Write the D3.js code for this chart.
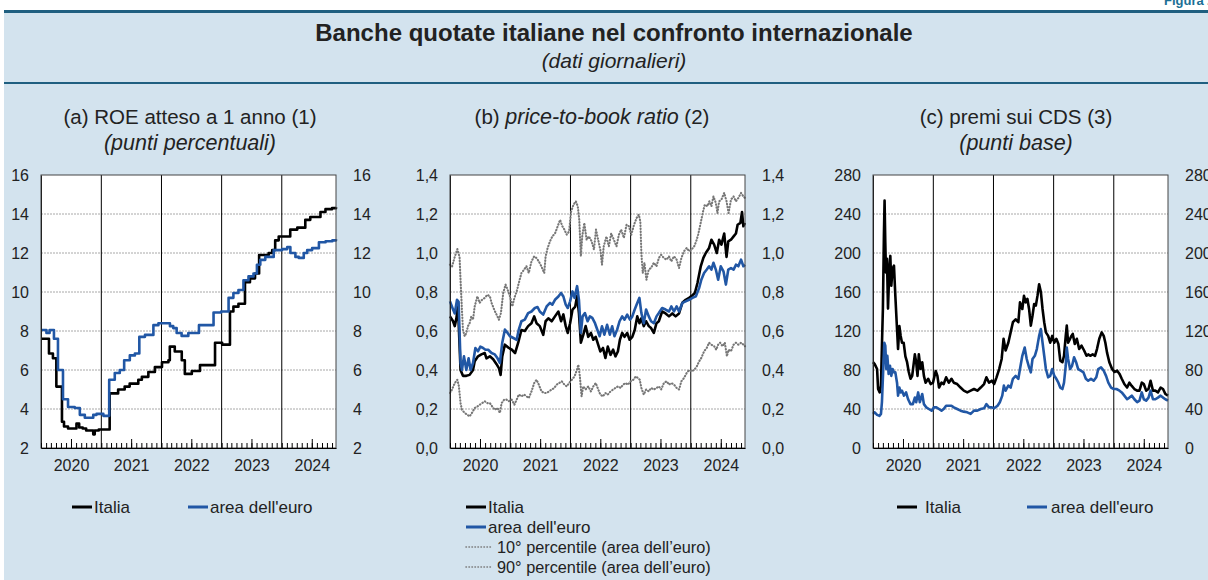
<!DOCTYPE html>
<html>
<head>
<meta charset="utf-8">
<script src="https://cdn.jsdelivr.net/npm/d3@7"></script>
<style>
    body { margin: 0; background: #fff; }
    text { font-family: "Liberation Sans", Arial, Helvetica, sans-serif; fill: #222; }
</style>
</head>
<body>
<div id="chart"></div>
<script>
// dates are months since January 2020 (decimal)
var endMonth = 58.8;
var years = [2020, 2021, 2022, 2023, 2024];

// (a) ROE atteso a 1 anno
var roeItalia = [[0,7.6],[1.6,6.85],[2.4,6.6],[3.07,5.15],[4.2,3.35],[4.6,3.1],[5.4,3.0],[7.07,3.25],[7.6,3.05],[8.3,3.0],[9.0,2.9],[10.4,2.7],[10.7,2.9],[11.5,2.95],[13.7,4.8],[15.4,5.0],[16.7,5.15],[17.7,5.3],[19.4,5.5],[20.1,5.65],[21.4,5.9],[22.7,6.15],[24.1,6.4],[25.4,6.5],[25.7,7.2],[26.7,6.95],[28.1,6.5],[28.7,5.8],[30.1,5.95],[31.7,6.25],[34.7,7.4],[36.1,7.3],[37.7,9.0],[38.4,9.25],[39.4,9.4],[40.7,10.5],[41.7,10.7],[42.7,10.95],[43.5,11.9],[45.4,12.0],[46.1,12.15],[46.7,12.65],[47.4,12.85],[49.7,13.2],[51.1,13.3],[52.7,13.7],[53.7,13.85],[55.7,14.1],[56.7,14.25],[58.0,14.3],[58.8,14.35]];
var roeEuro = [[0,8.05],[1.07,7.9],[1.73,8.05],[2.6,7.6],[3.4,6.0],[4.4,4.5],[5.4,4.1],[6.73,4.05],[7.73,3.7],[8.73,3.55],[10.4,3.7],[11.07,3.75],[12.4,3.65],[13.6,5.5],[14.73,5.85],[15.73,6.0],[16.6,6.5],[17.73,6.75],[18.73,6.85],[19.6,7.7],[20.73,7.8],[22.4,8.3],[23.4,8.4],[25.73,8.25],[26.4,8.15],[27.07,7.9],[28.07,7.75],[29.4,7.9],[31.5,8.3],[34.4,8.95],[35.9,9.0],[37.4,9.7],[38.4,9.95],[39.4,10.1],[40.4,10.6],[41.4,10.8],[42.4,10.95],[43.07,11.4],[43.73,11.65],[44.73,11.8],[46.4,12.15],[48.07,12.2],[49.07,12.3],[49.73,12.0],[50.73,11.8],[51.4,11.75],[52.4,12.0],[53.07,12.15],[54.07,12.25],[55.4,12.55],[56.73,12.6],[58.07,12.65],[58.8,12.7]];

// (b) price-to-book ratio
var pbvItalia = [[0,0.675],[0.6,0.65],[0.93,0.625],[1.27,0.665],[1.6,0.73],[2.13,0.4],[2.6,0.37],[3.27,0.37],[3.93,0.375],[4.6,0.4],[4.93,0.445],[5.6,0.47],[6.27,0.48],[6.93,0.487],[7.27,0.46],[7.93,0.47],[8.6,0.455],[9.27,0.43],[9.73,0.41],[10.07,0.375],[10.4,0.47],[10.93,0.53],[11.6,0.515],[12.27,0.505],[12.93,0.487],[13.6,0.54],[14.27,0.605],[14.93,0.6],[15.6,0.625],[16.27,0.64],[16.8,0.675],[17.27,0.64],[17.93,0.625],[18.6,0.58],[19.07,0.65],[19.6,0.665],[20.27,0.65],[20.93,0.675],[21.6,0.7],[22.13,0.65],[22.6,0.685],[23.07,0.625],[23.47,0.59],[23.93,0.64],[24.4,0.71],[24.93,0.725],[25.33,0.78],[25.73,0.69],[26.13,0.54],[26.6,0.58],[27.07,0.625],[27.6,0.57],[28.13,0.59],[28.6,0.555],[29.07,0.57],[30.0,0.495],[30.53,0.513],[31.0,0.462],[31.47,0.52],[32.0,0.478],[32.53,0.504],[33.0,0.47],[33.47,0.495],[33.87,0.555],[34.33,0.59],[34.8,0.57],[35.33,0.59],[35.8,0.555],[36.33,0.57],[36.8,0.605],[37.33,0.675],[37.8,0.64],[38.2,0.665],[38.67,0.625],[39.13,0.65],[39.67,0.625],[40.13,0.615],[40.67,0.59],[41.2,0.64],[41.67,0.65],[42.33,0.7],[43.0,0.69],[43.67,0.675],[44.33,0.69],[45.0,0.675],[45.67,0.69],[46.33,0.745],[47.0,0.76],[47.67,0.77],[48.2,0.78],[48.8,0.795],[49.33,0.846],[50.0,0.93],[50.53,0.975],[51.0,1.0],[51.67,1.026],[52.13,1.068],[52.67,1.043],[53.2,1.0],[53.67,1.068],[54.13,1.043],[54.67,1.1],[55.13,0.98],[55.47,1.06],[56.0,1.068],[56.53,1.085],[57.0,1.1],[57.33,1.145],[57.87,1.154],[58.2,1.21],[58.47,1.137],[58.8,1.154]];
var pbvEuro = [[0,0.752],[0.6,0.71],[0.93,0.69],[1.4,0.76],[1.73,0.75],[2.13,0.436],[2.4,0.4],[2.8,0.47],[3.27,0.4],[3.73,0.46],[4.13,0.4],[4.6,0.436],[5.07,0.513],[5.6,0.496],[6.07,0.52],[6.6,0.513],[7.07,0.504],[7.6,0.504],[8.27,0.487],[8.93,0.48],[9.47,0.46],[9.93,0.436],[10.4,0.54],[10.93,0.607],[11.47,0.59],[11.93,0.573],[12.6,0.564],[13.27,0.555],[13.73,0.607],[14.27,0.65],[14.93,0.658],[15.6,0.692],[16.27,0.7],[16.93,0.718],[17.47,0.723],[17.93,0.7],[18.6,0.684],[19.27,0.726],[19.93,0.744],[20.4,0.735],[20.93,0.76],[21.6,0.777],[22.13,0.795],[22.6,0.777],[23.07,0.735],[23.47,0.718],[23.93,0.752],[24.4,0.803],[24.8,0.77],[25.33,0.83],[25.73,0.76],[26.13,0.59],[26.47,0.675],[26.93,0.692],[27.47,0.65],[27.93,0.675],[28.4,0.667],[28.93,0.64],[29.87,0.573],[30.33,0.624],[30.8,0.581],[31.33,0.632],[31.87,0.581],[32.33,0.624],[32.8,0.573],[33.33,0.607],[33.8,0.65],[34.33,0.675],[34.8,0.658],[35.33,0.684],[35.87,0.658],[36.33,0.675],[36.8,0.71],[37.33,0.744],[37.8,0.77],[38.2,0.692],[38.67,0.64],[39.13,0.71],[39.67,0.675],[40.13,0.65],[40.67,0.64],[41.2,0.675],[41.67,0.692],[42.33,0.718],[43.0,0.71],[43.67,0.7],[44.13,0.726],[44.67,0.7],[45.2,0.726],[45.67,0.7],[46.33,0.744],[47.0,0.752],[47.67,0.76],[48.33,0.77],[49.0,0.778],[49.67,0.82],[50.13,0.863],[50.67,0.897],[51.2,0.915],[51.67,0.932],[52.13,0.915],[52.53,0.95],[53.0,0.915],[53.47,0.863],[54.0,0.932],[54.53,0.906],[55.0,0.838],[55.47,0.915],[56.0,0.923],[56.53,0.915],[57.0,0.94],[57.47,0.932],[58.0,0.966],[58.47,0.932],[58.8,0.94]];
var pbvP10 = [[0,0.282],[0.4,0.3],[0.93,0.333],[1.47,0.35],[1.8,0.316],[2.13,0.23],[2.4,0.196],[2.93,0.18],[3.47,0.171],[3.93,0.162],[4.4,0.18],[4.93,0.205],[5.47,0.213],[5.93,0.222],[6.4,0.23],[6.93,0.24],[7.47,0.23],[7.93,0.23],[8.4,0.213],[8.93,0.196],[9.47,0.205],[9.93,0.18],[10.27,0.23],[10.8,0.248],[11.27,0.248],[11.73,0.24],[12.27,0.248],[12.8,0.222],[13.27,0.248],[13.73,0.274],[14.27,0.265],[14.8,0.274],[15.27,0.265],[15.73,0.256],[16.27,0.29],[16.8,0.333],[17.27,0.35],[17.73,0.325],[18.27,0.29],[18.8,0.282],[19.27,0.282],[19.73,0.29],[20.27,0.3],[20.8,0.308],[21.27,0.325],[21.73,0.333],[22.27,0.342],[22.8,0.325],[23.27,0.316],[23.73,0.333],[24.27,0.35],[24.8,0.367],[25.27,0.4],[25.6,0.427],[25.93,0.367],[26.27,0.265],[26.6,0.316],[27.07,0.3],[27.6,0.316],[28.13,0.29],[28.6,0.316],[29.07,0.333],[30.0,0.274],[30.53,0.265],[31.0,0.282],[31.47,0.274],[32.0,0.29],[32.53,0.3],[33.0,0.308],[33.47,0.316],[34.0,0.308],[34.53,0.325],[35.0,0.333],[35.47,0.325],[36.0,0.342],[36.53,0.35],[37.0,0.367],[37.47,0.359],[37.87,0.35],[38.2,0.308],[38.67,0.274],[39.13,0.3],[39.67,0.29],[40.13,0.308],[40.67,0.3],[41.2,0.308],[41.67,0.316],[42.13,0.3],[42.67,0.333],[43.2,0.342],[43.67,0.325],[44.13,0.333],[44.67,0.325],[45.2,0.308],[45.67,0.3],[46.13,0.342],[46.67,0.359],[47.2,0.385],[47.67,0.4],[48.13,0.393],[48.67,0.4],[49.2,0.419],[49.67,0.444],[50.13,0.462],[50.67,0.496],[51.2,0.513],[51.67,0.54],[52.13,0.53],[52.67,0.522],[53.07,0.504],[53.47,0.53],[53.87,0.54],[54.33,0.522],[54.8,0.54],[55.2,0.47],[55.53,0.504],[56.0,0.496],[56.53,0.53],[57.0,0.54],[57.47,0.53],[58.0,0.54],[58.47,0.53],[58.8,0.522]];
var pbvP90 = [[0,0.94],[0.4,0.93],[0.93,0.98],[1.47,1.02],[1.93,0.98],[2.13,0.86],[2.4,0.71],[2.6,0.607],[2.93,0.573],[3.27,0.59],[3.6,0.625],[3.93,0.64],[4.27,0.675],[4.6,0.658],[4.93,0.726],[5.47,0.778],[5.93,0.744],[6.4,0.76],[6.93,0.77],[7.47,0.786],[7.93,0.778],[8.27,0.744],[8.8,0.71],[9.27,0.684],[9.73,0.658],[10.13,0.692],[10.6,0.795],[11.07,0.838],[11.47,0.812],[11.93,0.778],[12.4,0.726],[12.8,0.77],[13.27,0.803],[13.73,0.846],[14.27,0.897],[14.8,0.915],[15.27,0.932],[15.73,0.897],[16.27,0.957],[16.8,0.983],[17.27,0.974],[17.73,0.957],[18.27,0.93],[18.8,0.897],[19.07,0.983],[19.47,1.026],[19.93,1.06],[20.4,1.085],[20.93,1.1],[21.47,1.137],[21.93,1.17],[22.4,1.137],[22.8,1.12],[23.27,1.094],[23.73,1.111],[24.13,1.214],[24.6,1.248],[25.07,1.265],[25.47,1.24],[25.8,1.17],[26.13,0.983],[26.4,1.085],[26.8,1.154],[27.27,1.068],[27.73,1.085],[28.27,1.06],[28.73,1.017],[29.13,1.12],[30.0,1.017],[30.33,0.94],[30.67,1.034],[31.2,1.085],[31.67,1.034],[32.13,1.1],[32.67,1.068],[33.2,1.034],[33.67,1.094],[34.13,1.12],[34.67,1.077],[35.2,1.145],[35.67,1.137],[36.13,1.094],[36.67,1.145],[37.2,1.18],[37.67,1.197],[38.0,1.162],[38.2,1.0],[38.47,0.897],[38.8,0.95],[39.2,0.863],[39.67,0.915],[40.13,0.923],[40.67,0.95],[41.2,0.932],[41.67,0.974],[42.13,0.991],[42.67,0.974],[43.2,0.966],[43.67,0.983],[44.13,0.957],[44.67,0.983],[45.2,0.966],[45.67,0.923],[46.13,0.974],[46.67,1.009],[47.2,1.026],[47.67,1.009],[48.13,1.017],[48.67,1.034],[49.07,1.06],[49.47,1.094],[50.0,1.154],[50.4,1.205],[50.8,1.248],[51.33,1.24],[51.73,1.265],[52.13,1.24],[52.53,1.29],[53.0,1.257],[53.33,1.205],[53.67,1.265],[54.13,1.274],[54.67,1.308],[55.13,1.265],[55.53,1.205],[56.0,1.274],[56.53,1.29],[57.0,1.265],[57.47,1.282],[58.0,1.308],[58.47,1.29],[58.8,1.282]];

// (c) premi sui CDS
var cdsItalia = [[0,88],[0.33,86],[0.8,81],[1.0,60.5],[1.33,57],[1.6,64],[1.8,105],[2.0,142.6],[2.2,218],[2.33,253.7],[2.47,211],[2.6,180],[2.8,194],[3.0,143],[3.27,184],[3.47,197],[3.67,166.5],[3.93,184],[4.2,187],[4.47,156],[4.73,129],[5.0,101.5],[5.27,125],[5.53,115],[5.8,108],[6.13,108],[6.47,94],[6.8,88],[7.13,78],[7.47,71],[7.8,74],[8.33,96],[8.6,88],[8.87,74],[9.13,96],[9.47,81],[9.8,88],[10.13,74],[10.47,67],[11.0,71],[11.47,65.6],[11.93,67],[12.47,79],[12.8,74],[13.13,62],[13.67,67],[14.13,65.6],[14.6,72.5],[15.13,67],[15.67,71],[16.13,67],[16.8,65.6],[17.47,62],[18.13,58.8],[18.8,57],[19.47,58.8],[20.13,60.5],[20.8,58.8],[21.47,62],[22.13,65.6],[22.6,72.5],[23.13,67],[23.67,69],[24.13,65.6],[24.6,72.5],[25.13,81],[25.67,91.3],[26.07,112],[26.47,100],[27.0,108],[27.47,118.6],[27.93,129],[28.47,132],[29.0,129],[29.33,149.4],[29.8,142.6],[30.13,156],[30.47,149.4],[30.8,153],[31.13,142.6],[31.47,125.5],[31.8,135.7],[32.13,147.7],[32.47,146],[32.8,156],[33.13,168],[33.47,160],[33.8,142.6],[34.13,129],[34.47,118.6],[34.93,115],[35.33,108],[35.73,115],[36.13,108],[36.53,112],[36.93,106.7],[37.33,89.6],[37.8,88],[38.13,94.6],[38.47,115],[38.67,125.5],[38.93,108],[39.33,112],[39.6,115],[39.87,117],[40.27,106.7],[40.67,112],[41.13,101.5],[41.6,105],[42.13,100],[42.6,94.6],[42.93,96],[43.33,94.6],[43.8,96],[44.27,94.6],[44.67,101.5],[45.13,112],[45.6,118.6],[46.0,115],[46.33,108],[46.67,97.8],[47.13,88],[47.67,81],[48.13,78],[48.67,79.3],[49.13,76],[49.6,71],[50.13,65.6],[50.67,62],[51.13,67],[51.6,63.7],[52.13,60.5],[52.67,58.8],[53.13,58.8],[53.6,67],[54.0,65.6],[54.47,58.8],[54.93,60.5],[55.33,69],[55.8,58.8],[56.27,58.8],[56.8,57],[57.33,62],[57.8,60.5],[58.27,55.4],[58.8,53.7]];
var cdsEuro = [[0,35],[0.33,36.6],[0.8,34],[1.27,33],[1.6,35],[1.8,47],[2.07,81],[2.27,108],[2.47,105],[2.67,81],[2.87,94.6],[3.13,76],[3.4,84.4],[3.67,74],[3.93,81],[4.2,77.6],[4.47,77.6],[4.8,67],[5.0,53.7],[5.27,62],[5.53,57],[5.8,58.8],[6.2,53.7],[6.6,57],[7.0,50],[7.47,45],[7.93,45],[8.33,51.7],[8.6,47],[9.0,57],[9.33,47],[9.8,55.4],[10.13,45],[10.6,41.7],[11.13,40],[11.67,38.3],[12.13,41.7],[12.6,41.7],[13.13,40],[13.67,38.3],[14.13,40],[14.6,43.4],[15.13,43.4],[15.67,43.4],[16.13,41.7],[16.8,40],[17.47,38.3],[18.13,37.3],[18.8,36.6],[19.47,35],[20.13,38.3],[20.8,38.3],[21.47,40],[22.13,40.7],[22.6,45],[23.13,41.7],[23.67,41.7],[24.13,40.7],[24.8,43.4],[25.27,47],[25.8,53.7],[26.13,64],[26.47,58.8],[27.0,64],[27.47,62],[27.93,71],[28.47,74],[29.0,71],[29.33,81],[29.8,94.6],[30.27,103],[30.67,91.3],[31.13,82.7],[31.47,77.6],[31.8,91.3],[32.27,94.6],[32.67,101.5],[33.13,115],[33.47,122],[33.8,108],[34.13,94.6],[34.47,81],[34.93,72.5],[35.33,74],[35.73,81],[36.13,74],[36.53,71],[36.93,67],[37.33,62],[37.8,60.5],[38.13,67],[38.47,84.4],[38.67,103],[38.93,91.3],[39.33,81],[39.73,84.4],[40.13,93],[40.53,88],[40.93,81],[41.47,79.3],[42.0,77.6],[42.47,71],[42.93,69],[43.47,71],[44.0,69],[44.53,72.5],[44.93,81],[45.47,82.7],[46.0,79.3],[46.47,74],[46.93,67],[47.47,62],[48.0,60.5],[48.53,60.5],[49.13,58.8],[49.6,57],[50.13,53.7],[50.67,50],[51.13,51.7],[51.6,53.7],[52.13,50],[52.67,47],[53.13,48.6],[53.6,57],[54.0,50],[54.47,48.6],[54.93,51.7],[55.33,58.8],[55.8,50],[56.27,50],[56.8,51.7],[57.33,53.7],[57.8,51.7],[58.27,50],[58.8,48.6]];

// tick labels
var roeTicks = [2, 4, 6, 8, 10, 12, 14, 16];
var pbvTicks = [0, 0.2, 0.4, 0.6, 0.8, 1.0, 1.2, 1.4];
var cdsTicks = [0, 40, 80, 120, 160, 200, 240, 280];

var BLACK = "#000";
var BLUE = "#2157a5";
var GREY = "#777";

var itLocale = d3.formatLocale({ decimal: ",", thousands: ".", grouping: [3], currency: ["", "€"] });

function monthDate(m) {
    var mi = Math.floor(m);
    var start = new Date(2020, mi, 1);
    var end = new Date(2020, mi + 1, 1);
    return new Date(+start + (m - mi) * (end - start));
}

var svgWidth = 1208;
var svgHeight = 580;
var plotTop = 175;
var plotBottom = 448;
var plotWidth = 295;

var svg = d3.select("#chart")
    .append("svg")
    .attr("width", svgWidth)
    .attr("height", svgHeight);

// background box and header
svg.append("rect")
    .attr("x", 4).attr("y", 12)
    .attr("width", svgWidth - 4).attr("height", svgHeight - 12)
    .attr("fill", "#d3e3ee");

svg.append("text")
    .attr("x", 1164).attr("y", 5)
    .style("font-size", "13px").style("font-weight", "bold").style("fill", "#1b6f95")
    .text("Figura 2.1");

svg.append("line")
    .attr("x1", 4).attr("x2", svgWidth).attr("y1", 11.5).attr("y2", 11.5)
    .attr("stroke", "#1f5f80").attr("stroke-width", 3);

svg.append("line")
    .attr("x1", 4).attr("x2", svgWidth).attr("y1", 83).attr("y2", 83)
    .attr("stroke", "#1f5f80").attr("stroke-width", 2);

svg.append("text")
    .attr("x", 614).attr("y", 41)
    .attr("text-anchor", "middle")
    .style("font-size", "24px").style("font-weight", "bold")
    .text("Banche quotate italiane nel confronto internazionale");

svg.append("text")
    .attr("x", 614).attr("y", 68)
    .attr("text-anchor", "middle")
    .style("font-size", "21px").style("font-style", "italic")
    .text("(dati giornalieri)");

var panels = [
    {
        left: 41, center: 190,
        title: [{ t: "(a) ROE atteso a 1 anno (1)" }],
        subtitle: "(punti percentuali)",
        domain: [2, 16], ticks: roeTicks, fmt: d3.format("d"),
        series: [
            { data: roeItalia, color: BLACK, width: 2.6, step: true },
            { data: roeEuro, color: BLUE, width: 2.6, step: true }
        ],
        legend: [
            { x: 72, y: 507, label: "Italia", color: BLACK, len: 20, gap: 2 },
            { x: 188, y: 507, label: "area dell'euro", color: BLUE, len: 20, gap: 2 }
        ]
    },
    {
        left: 450, center: 592,
        title: [{ t: "(b) " }, { t: "price-to-book ratio", it: true }, { t: " (2)" }],
        subtitle: null,
        domain: [0, 1.4], ticks: pbvTicks, fmt: itLocale.format(".1f"),
        series: [
            { data: pbvP10, color: GREY, width: 2.1, dotted: true },
            { data: pbvP90, color: GREY, width: 2.1, dotted: true },
            { data: pbvItalia, color: BLACK, width: 2.6 },
            { data: pbvEuro, color: BLUE, width: 2.6 }
        ],
        legend: [
            { x: 466, y: 507, label: "Italia", color: BLACK, len: 20, gap: 2 },
            { x: 466, y: 527, label: "area dell'euro", color: BLUE, len: 20, gap: 2 },
            { x: 466, y: 547, label: "10° percentile (area dell’euro)", color: GREY, len: 26, gap: 5, dotted: true },
            { x: 466, y: 567, label: "90° percentile (area dell’euro)", color: GREY, len: 26, gap: 5, dotted: true }
        ]
    },
    {
        left: 873, center: 1016,
        title: [{ t: "(c) premi sui CDS (3)" }],
        subtitle: "(punti base)",
        domain: [0, 280], ticks: cdsTicks, fmt: d3.format("d"),
        series: [
            { data: cdsItalia, color: BLACK, width: 2.6 },
            { data: cdsEuro, color: BLUE, width: 2.6 }
        ],
        legend: [
            { x: 897, y: 507, label: "Italia", color: BLACK, len: 20, gap: 8 },
            { x: 1027, y: 507, label: "area dell'euro", color: BLUE, len: 20, gap: 4 }
        ]
    }
];

panels.forEach(drawPanel);

function drawPanel(p) {
    var xScale = d3.scaleTime()
        .domain([monthDate(0), monthDate(endMonth)])
        .range([p.left, p.left + plotWidth]);

    var yScale = d3.scaleLinear()
        .domain(p.domain)
        .range([plotBottom, plotTop]);

    var g = svg.append("g");

    // titles
    var title = g.append("text")
        .attr("x", p.center).attr("y", 124)
        .attr("text-anchor", "middle")
        .style("font-size", "20.5px");
    p.title.forEach(function(part) {
        title.append("tspan")
            .style("font-style", part.it ? "italic" : "normal")
            .style("font-size", part.it ? "21.5px" : null)
            .text(part.t);
    });
    if (p.subtitle) {
        g.append("text")
            .attr("x", p.center).attr("y", 150)
            .attr("text-anchor", "middle")
            .style("font-size", "21.5px").style("font-style", "italic")
            .text(p.subtitle);
    }

    // plot area
    g.append("rect")
        .attr("x", p.left).attr("y", plotTop)
        .attr("width", plotWidth).attr("height", plotBottom - plotTop)
        .attr("fill", "#fff");

    // horizontal grid
    g.selectAll(".grid")
        .data(p.ticks.slice(1, -1))
        .enter()
        .append("line")
        .attr("x1", p.left).attr("x2", p.left + plotWidth)
        .attr("y1", d => yScale(d)).attr("y2", d => yScale(d))
        .attr("stroke", "#a8a8a8")
        .attr("stroke-width", 1)
        .attr("stroke-dasharray", "2,1");

    // year separators
    g.selectAll(".yearline")
        .data(years.slice(1))
        .enter()
        .append("line")
        .attr("x1", d => xScale(new Date(d, 0, 1))).attr("x2", d => xScale(new Date(d, 0, 1)))
        .attr("y1", plotTop).attr("y2", plotBottom)
        .attr("stroke", "#000")
        .attr("stroke-width", 1);

    // series
    p.series.forEach(function(s) {
        var line = d3.line()
            .x(d => xScale(monthDate(d[0])))
            .y(d => yScale(d[1]))
            .curve(s.step ? d3.curveStepAfter : d3.curveLinear);

        var path = g.append("path")
            .datum(s.data)
            .attr("d", line)
            .attr("fill", "none")
            .attr("stroke", s.color)
            .attr("stroke-width", s.width)
            .attr("stroke-linejoin", "round");
        if (s.dotted) {
            path.attr("stroke-dasharray", "0.5,2.5")
                .attr("stroke-linecap", "round");
        }
    });

    // frame
    g.append("rect")
        .attr("x", p.left).attr("y", plotTop)
        .attr("width", plotWidth).attr("height", plotBottom - plotTop)
        .attr("fill", "none")
        .attr("stroke", "#444")
        .attr("stroke-width", 1);

    // left and right axes
    g.append("g")
        .attr("transform", `translate(${p.left}, 0)`)
        .call(d3.axisLeft(yScale).tickValues(p.ticks).tickFormat(p.fmt).tickSize(0).tickPadding(12))
        .call(a => a.select(".domain").attr("stroke", "#222"))
        .selectAll("text").style("font-size", "16px");

    g.append("g")
        .attr("transform", `translate(${p.left + plotWidth}, 0)`)
        .call(d3.axisRight(yScale).tickValues(p.ticks).tickFormat(p.fmt).tickSize(0).tickPadding(17))
        .call(a => a.select(".domain").remove())
        .selectAll("text").style("font-size", "16px");

    // month ticks and year labels
    g.append("g")
        .attr("transform", `translate(0, ${plotBottom})`)
        .call(d3.axisBottom(xScale).ticks(d3.timeMonth.every(1)).tickSize(-5).tickSizeOuter(0).tickFormat(""))
        .call(a => a.select(".domain").attr("stroke", "#000").attr("stroke-width", 1.2));

    g.append("g")
        .attr("transform", `translate(0, ${plotBottom})`)
        .call(d3.axisBottom(xScale)
            .tickValues(years.map(y => new Date(y, 6, 1)))
            .tickFormat(d3.timeFormat("%Y"))
            .tickSize(-9).tickSizeOuter(0).tickPadding(12))
        .call(a => a.select(".domain").remove())
        .selectAll("text").style("font-size", "16px");

    // legend
    p.legend.forEach(function(l) {
        var sample = g.append("line")
            .attr("x1", l.x).attr("x2", l.x + l.len)
            .attr("y1", l.y).attr("y2", l.y)
            .attr("stroke", l.color);
        if (l.dotted) {
            sample.attr("stroke-width", 1.6)
                .attr("stroke-dasharray", "0.4,2.6")
                .attr("stroke-linecap", "round");
        } else {
            sample.attr("stroke-width", 3);
        }
        g.append("text")
            .attr("x", l.x + l.len + l.gap).attr("y", l.y)
            .attr("dy", "0.35em")
            .style("font-size", l.dotted ? "16.3px" : "17px")
            .text(l.label);
    });
}
</script>
</body>
</html>
